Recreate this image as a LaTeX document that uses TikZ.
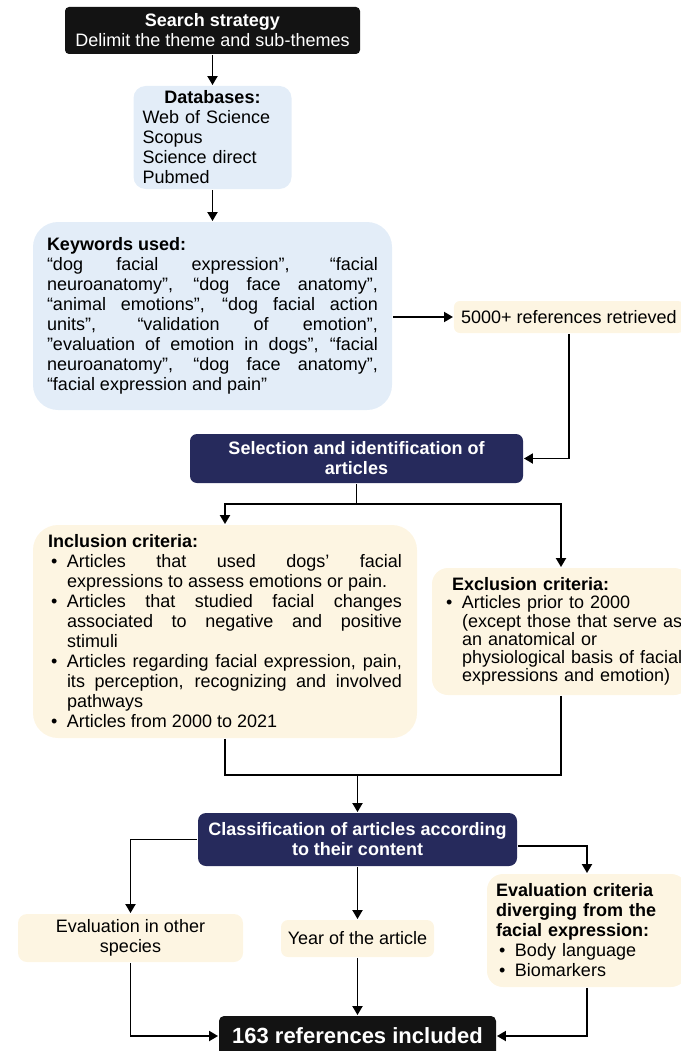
\documentclass[tikz,border=0pt]{standalone}
\usepackage{fontspec}
\setmainfont{Liberation Sans}
\usetikzlibrary{arrows.meta}
\definecolor{boxblack}{HTML}{131313}
\definecolor{boxnavy}{HTML}{262A5C}
\definecolor{boxblue}{HTML}{E3EDF8}
\definecolor{boxcream}{HTML}{FDF5E2}
\setlength{\parindent}{0pt}
\newcommand{\bul}{\par\noindent\hangindent=19pt\hangafter=1\makebox[19pt][l]{\hspace{3pt}\textbullet}\ignorespaces}
\newcommand{\bulbox}[2]{\par\noindent\makebox[19pt][l]{\hspace{3pt}\textbullet}\parbox[t]{#1}{\raggedright #2}}
\tikzset{
  darkbox/.style={fill=boxblack, text=white, rounded corners=4pt, inner sep=0pt, align=center},
  navybox/.style={fill=boxnavy, text=white, rounded corners=7pt, inner sep=0pt, align=center, font=\bfseries},
  bluebox/.style={fill=boxblue, inner sep=0pt},
  creambox/.style={fill=boxcream, inner sep=0pt},
  arr/.style={-{Triangle[width=10pt,length=9pt]}}
}
\begin{document}
\fontsize{18}{20}\selectfont
\hyphenpenalty=10000 \exhyphenpenalty=10000 \tolerance=10000 \emergencystretch=2em
\begin{tikzpicture}[x=1pt,y=-1pt,line width=1.9pt]
\useasboundingbox (0,0) rectangle (680,1051);
\node[darkbox, minimum width=295, minimum height=47] (search) at (212.5,30.5) {{\bfseries Search strategy}\\Delimit the theme and sub-themes};
\node[bluebox, rounded corners=12pt, minimum width=158, minimum height=103, text width=140, align=left] (db) at (212.5,137.5) {\makebox[\linewidth]{\bfseries Databases:}\\Web of Science\\Scopus\\Science direct\\Pubmed};
\node[bluebox, rounded corners=25pt, minimum width=359, minimum height=188, text width=331, align=justify] (kw) at (212.5,316) {{\bfseries Keywords used:}\par
“dog facial expression”, “facial\linebreak
neuroanatomy”, “dog face anatomy”,\linebreak
“animal emotions”, “dog facial action\linebreak
units”, “validation of emotion”,\linebreak
”evaluation of emotion in dogs”, “facial\linebreak
neuroanatomy”, “dog face anatomy”,\linebreak
“facial expression and pain”};
\node[creambox, rounded corners=6pt, minimum width=230, minimum height=32, anchor=west] (ret) at (453,317) {5000+ references retrieved};
\node[navybox, minimum width=333, minimum height=49] (sel) at (356.5,458.5) {Selection and identification of\\articles};
\node[creambox, rounded corners=25pt, minimum width=384, minimum height=213, text width=354, align=justify] (inc) at (225,631.5) {{\bfseries Inclusion criteria:}
\bul Articles that used dogs’ facial\linebreak \mbox{expressions to assess emotions or pain.}
\bul Articles that studied facial changes\linebreak associated to negative and positive\linebreak stimuli
\bul Articles regarding facial expression, pain,\linebreak its perception, recognizing and involved\linebreak pathways
\bul Articles from 2000 to 2021};
\node[creambox, rounded corners=16pt, minimum width=258, minimum height=127, text width=236, align=left, font=\fontsize{18}{18.3}\selectfont] (exc) at (561,631.5) {\hspace*{9pt}{\bfseries Exclusion criteria:}
\bulbox{240pt}{Articles prior to 2000\\(except those that serve as\\an anatomical or\\physiological basis of facial\\expressions and emotion)}};
\node[navybox, rounded corners=8pt, minimum width=319, minimum height=53] (cls) at (357.5,839.5) {Classification of articles according\\to their content};
\node[creambox, rounded corners=9pt, minimum width=225, minimum height=48, align=center] (oth) at (130.5,938) {Evaluation in other\\species};
\node[creambox, rounded corners=7pt, minimum width=153, minimum height=37] (year) at (357.5,938.5) {Year of the article};
\node[creambox, rounded corners=16pt, minimum width=200, minimum height=113, text width=182, align=left] (crit) at (587,930.5) {{\bfseries Evaluation criteria\break diverging from the\break facial expression:}
\bul Body language
\bul Biomarkers};
\node[darkbox, rounded corners=5pt, minimum width=277, minimum height=40, font=\fontsize{22}{24}\selectfont\bfseries] (fin) at (357.5,1036) {163 references included};
\coordinate (split) at (356.5,504);
\coordinate (merge) at (357.5,775);
\draw[arr] (search) -- (db);
\draw[arr] (db) -- (kw);
\draw[arr] (kw.east |- ret.west) -- (ret.west);
\draw[arr] (ret.south) |- (sel.east);
\draw (sel.south) -- (split);
\draw[arr] (split) -| (inc.north);
\draw[arr] (split) -| (exc.north);
\draw (inc.south) |- (merge);
\draw (exc.south) |- (merge);
\draw[arr] (merge) -- (cls.north);
\draw[arr] (cls.west) -| (oth.north);
\draw[arr] ([yshift=-6.5pt]cls.east) -| (crit.north);
\draw[arr] (cls) -- (year);
\draw[arr] (oth.south) |- (fin.west);
\draw[arr] (year) -- (fin);
\draw[arr] (crit.south) |- (fin.east);
\end{tikzpicture}
\end{document}
